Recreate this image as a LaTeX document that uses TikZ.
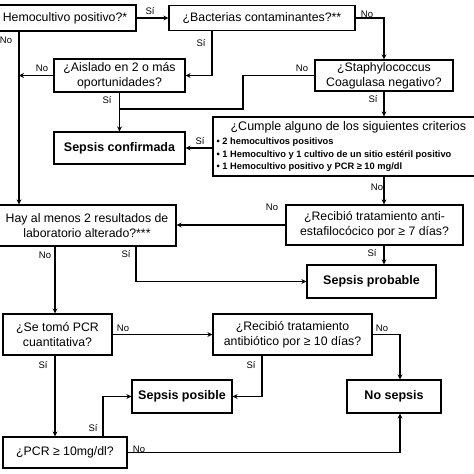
\documentclass[tikz,border=0pt]{standalone}
\usepackage{fontspec}
\setmainfont{Liberation Sans}
\usetikzlibrary{arrows.meta}

\begin{document}
\begin{tikzpicture}[x=1pt,y=-1pt,line width=1.2pt,>={Stealth[length=5pt,width=5pt]},
    caja/.style={draw,align=center,inner sep=1pt,font=\fontsize{12.3}{15}\selectfont},
    fin/.style={caja,font=\fontsize{12.5}{15}\selectfont\bfseries},
    etiq/.style={inner sep=0pt,font=\fontsize{9.5}{10}\selectfont}]
        \useasboundingbox (0,0) rectangle (474,474);

        % preguntas y resultados
        \node[caja,minimum width=142pt,minimum height=26pt] (hemo) at (65,18) {Hemocultivo positivo?*};
        \node[caja,minimum width=186pt,minimum height=25pt] (bact) at (262,18) {¿Bacterias contaminantes?**};
        \node[caja,minimum width=138pt,minimum height=31pt] (staph) at (384,75.5) {¿Staphylococcus\\Coagulasa negativo?};
        \node[caja,minimum width=131pt,minimum height=33pt] (aisl) at (119.5,75.5) {¿Aislado en 2 o más\\oportunidades?};
        \node[fin,minimum width=131pt,minimum height=32pt] (conf) at (119.5,148) {Sepsis confirmada};
        \node[draw,minimum width=263pt,minimum height=59pt] (cumple) at (344.5,146.5) {};
        \node[anchor=west,inner sep=0pt,font=\fontsize{12.5}{15}\selectfont] (cumplet) at (230,127) {¿Cumple alguno de los siguientes criterios};
        \node[anchor=north west,align=left,inner sep=0pt,font=\fontsize{9.3}{12.5}\selectfont\bfseries] (cumpleb) at (216,137.5)
            {• 2 hemocultivos positivos\\• 1 Hemocultivo y 1 cultivo de un sitio estéril positivo\\• 1 Hemocultivo positivo y PCR ≥ 10 mg/dl};
        \node[caja,minimum width=177pt,minimum height=40pt] (anti) at (374.5,225) {¿Recibió tratamiento anti-\\estafilocócico por ≥ 7 días?};
        \node[caja,minimum width=178pt,minimum height=41pt] (hay) at (87,225.5) {Hay al menos 2 resultados de\\laboratorio alterado?***};
        \node[fin,minimum width=129pt,minimum height=33pt] (prob) at (371.5,281.5) {Sepsis probable};
        \node[caja,minimum width=109pt,minimum height=41pt] (pcrq) at (57.5,334.5) {¿Se tomó PCR\\cuantitativa?};
        \node[caja,minimum width=159pt,minimum height=41pt] (antib) at (292.5,334.5) {¿Recibió tratamiento\\antibiótico por ≥ 10 días?};
        \node[fin,minimum width=100pt,minimum height=33pt] (posible) at (182,396.5) {Sepsis posible};
        \node[fin,minimum width=94pt,minimum height=33pt] (nosep) at (394,396.5) {No sepsis};
        \node[caja,minimum width=124pt,minimum height=31pt] (pcr) at (65,452.5) {¿PCR ≥ 10mg/dl?};

        % puntos de quiebre
        \coordinate (hv) at (19,31);
        \coordinate (sc) at (243,109);
        \coordinate (hn) at (55,246);
        \coordinate (hsi) at (136,246);
        \coordinate (as) at (262,355);
        \coordinate (ps) at (103,437);
        \coordinate (nx) at (400,0);

        % conectores
        \draw[->] (hemo.east) -- (bact.west);
        \draw[->] (bact.east) -| (staph.north);
        \draw[->] ([xshift=-50pt]bact.south) |- (aisl.east);
        \draw[->] (hv) -- (hv |- hay.north);
        \draw[->] (aisl.west) -- (aisl.west -| hv);
        \draw[->] (aisl.south) -- (conf.north);
        \draw (staph.west) -| (sc) -- (sc -| aisl.south);
        \draw[->] (staph.south) -- (staph.south |- cumple.north);
        \draw[->] (cumple.west |- conf.east) -- (conf.east);
        \draw[->] (cumple.south -| staph.south) -- (anti.north -| staph.south);
        \draw[->] (anti.west) -- (anti.west -| hay.east);
        \draw[->] (anti.south -| staph.south) -- (prob.north -| staph.south);
        \draw[->] (hn) -- (pcrq.north -| hn);
        \draw[->] (hsi) |- (prob.west);
        \draw[->] (pcrq.east) -- (antib.west);
        \draw[->] (pcrq.south -| hn) -- (pcr.north -| hn);
        \draw[->] (antib.east) -| (nx |- nosep.north);
        \draw[->] (as) |- (posible.east);
        \draw[->] (ps) |- (posible.west);
        \draw[->] (pcr.east) -| (nx |- nosep.south);

        % etiquetas
        \node[etiq] (si1) at (150,11) {Sí};
        \node[etiq] (no1) at (367,14) {No};
        \node[etiq] (si2) at (201,43) {Sí};
        \node[etiq] (no2) at (6,40) {No};
        \node[etiq] (no3) at (42,68) {No};
        \node[etiq] (no4) at (302,68) {No};
        \node[etiq] (si3) at (373,99) {Sí};
        \node[etiq] (si4) at (107,100) {Sí};
        \node[etiq] (si5) at (200,141) {Sí};
        \node[etiq] (no5) at (377,187) {No};
        \node[etiq] (no6) at (272,207) {No};
        \node[etiq] (si6) at (372,253) {Sí};
        \node[etiq] (no7) at (45,255) {No};
        \node[etiq] (si7) at (126,254) {Sí};
        \node[etiq] (no8) at (123,328) {No};
        \node[etiq] (no9) at (382,328) {No};
        \node[etiq] (si8) at (43,365) {Sí};
        \node[etiq] (si9) at (251,365) {Sí};
        \node[etiq] (si10) at (93,428) {Sí};
        \node[etiq] (no10) at (139,449) {No};
    \end{tikzpicture}
\end{document}
